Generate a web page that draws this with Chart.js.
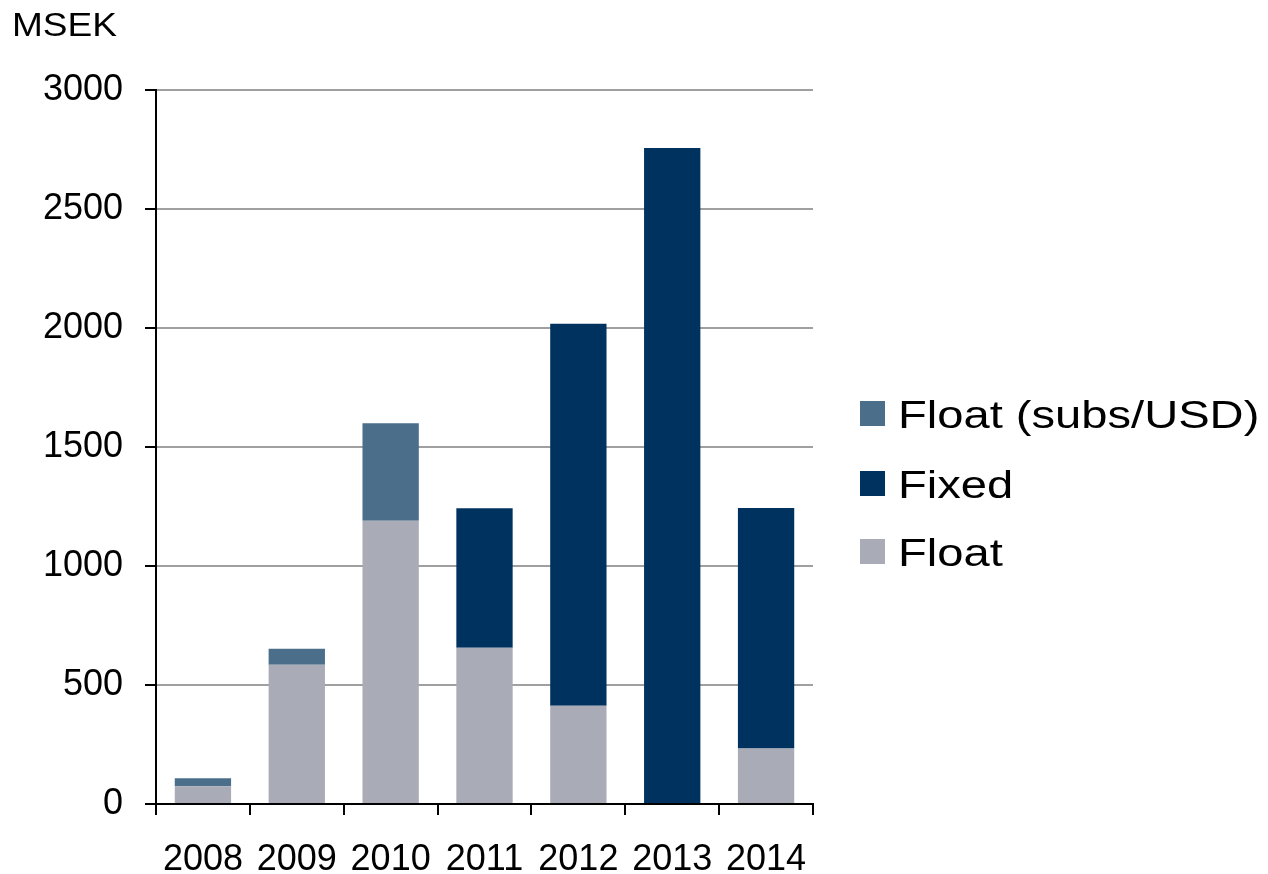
<!DOCTYPE html>
<html>
<head>
<meta charset="utf-8">
<script src="https://cdn.jsdelivr.net/npm/chart.js@4"></script>
<style>
  html, body { margin: 0; padding: 0; background: #fff; }
  #wrap { position: relative; width: 1268px; height: 874px; }
  canvas { position: absolute; left: 0; top: 0; }
  .txt { position: absolute; font-family: "Liberation Sans", Arial, sans-serif; color: #000; white-space: nowrap; transform-origin: 0 50%; line-height: 1; }
  .sw { position: absolute; width: 25px; height: 25px; }
</style>
</head>
<body>
<div id="wrap">
  <canvas id="c" width="1268" height="874"></canvas>
  <div id="unit" class="txt" style="left:12px; top:7px; font-size:34px; transform: scaleX(1.09);">MSEK</div>
  <div id="legend"></div>
</div>
<script>
const categories = ["2008", "2009", "2010", "2011", "2012", "2013", "2014"];
const floatValues = [75, 585, 1190, 656, 413, null, 233];
const fixedValues = [null, null, null, 587, 1605, 2756, 1011];
const floatSubsUsdValues = [33, 67, 410, null, null, null, null];
const seriesNames = ["Float", "Fixed", "Float (subs/USD)"];
const seriesColors = ["#a9abb7", "#003260", "#4b6e8b"];
const yTicks = [0, 500, 1000, 1500, 2000, 2500, 3000];

const FONT = '"Liberation Sans", Arial, sans-serif';

const chart = new Chart(document.getElementById('c'), {
  type: 'bar',
  data: {
    labels: categories,
    datasets: [
      { label: seriesNames[0], data: floatValues, backgroundColor: seriesColors[0] },
      { label: seriesNames[1], data: fixedValues, backgroundColor: seriesColors[1] },
      { label: seriesNames[2], data: floatSubsUsdValues, backgroundColor: seriesColors[2] }
    ]
  },
  options: {
    responsive: false,
    animation: false,
    devicePixelRatio: 1,
    layout: { padding: { top: 90, right: 455, left: 0, bottom: 0 } },
    datasets: { bar: { categoryPercentage: 1, barPercentage: 0.6, borderWidth: 0 } },
    plugins: { legend: { display: false }, tooltip: { enabled: false } },
    scales: {
      x: {
        stacked: true,
        offset: true,
        grid: { display: true, drawOnChartArea: false, drawTicks: true, tickLength: 11, tickColor: '#000', lineWidth: 2, offset: true },
        border: { display: true, color: '#000', width: 2 },
        ticks: { color: '#000', font: { family: FONT, size: 36 }, padding: 23, maxRotation: 0, autoSkip: false },
        afterFit: (s) => { s.height = 70; }
      },
      y: {
        stacked: true,
        min: yTicks[0],
        max: yTicks[yTicks.length - 1],
        afterBuildTicks: (s) => { s.ticks = yTicks.map(v => ({ value: v })); },
        grid: { color: '#a0a0a0', lineWidth: 2, drawTicks: true, tickLength: 11, tickColor: '#000' },
        border: { display: true, color: '#000', width: 2 },
        ticks: { color: '#000', font: { family: FONT, size: 36 }, padding: 22, callback: (v) => String(v) },
        afterFit: (s) => { s.width = 156; }
      }
    }
  }
});

// HTML legend (reverse order like the reference)
const legend = document.getElementById('legend');
const legendCenters = [413, 483, 551];
[2, 1, 0].forEach((idx, row) => {
  const cy = legendCenters[row];
  const sw = document.createElement('div');
  sw.className = 'sw';
  sw.style.left = '860px';
  sw.style.top = (cy - 12.5) + 'px';
  sw.style.background = seriesColors[idx];
  legend.appendChild(sw);
  const t = document.createElement('div');
  t.className = 'txt';
  t.style.left = '898px';
  t.style.fontSize = '38px';
  t.style.top = (cy - 19 + 2) + 'px';
  t.style.transform = 'scaleX(1.24)';
  t.textContent = seriesNames[idx];
  legend.appendChild(t);
});
</script>
</body>
</html>
